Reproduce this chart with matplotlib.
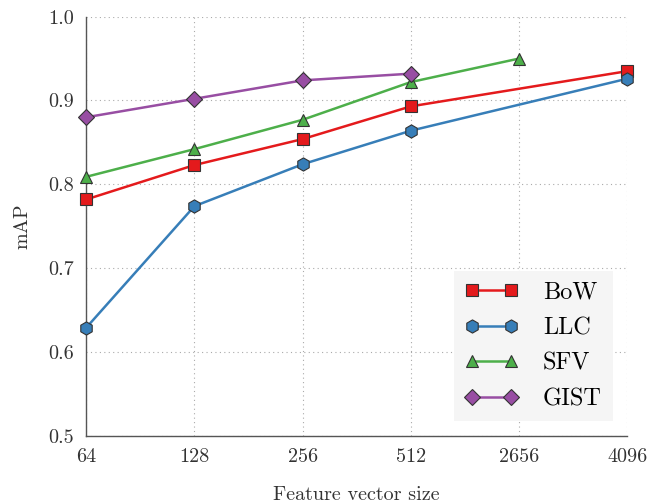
import matplotlib
matplotlib.use("Agg")
import matplotlib.pyplot as plt

plt.rcParams.update({
    "font.family": "serif", "font.serif": ["cmr10", "DejaVu Serif"],
    "mathtext.fontset": "cm", "axes.formatter.use_mathtext": True,
    "font.size": 12,
})

sizes = ["64", "128", "256", "512", "2656", "4096"]
bow_x = [0, 1, 2, 3, 5]
bow = [0.782, 0.823, 0.854, 0.893, 0.935]
llc_x = [0, 1, 2, 3, 5]
llc = [0.629, 0.774, 0.824, 0.864, 0.926]
sfv_x = [0, 1, 2, 3, 4]
sfv = [0.809, 0.842, 0.877, 0.922, 0.950]
gist_x = [0, 1, 2, 3]
gist = [0.880, 0.902, 0.924, 0.932]

fig = plt.figure(figsize=(6.48, 5.04), dpi=100)
ax = fig.add_axes([0.133, 0.135, 0.835, 0.832])

series = [(bow_x, bow, "BoW", "#e41a1c", "s", 8),
          (llc_x, llc, "LLC", "#377eb8", "h", 9.5),
          (sfv_x, sfv, "SFV", "#4daf4a", "^", 9),
          (gist_x, gist, "GIST", "#984ea3", "D", 8)]
for xs, ys, lab, col, mk, ms in series:
    ax.plot(xs, ys, color=col, lw=1.8, marker=mk, ms=ms, mfc=col,
            mec="#333333", mew=0.8, label=lab, zorder=3, clip_on=False)

ax.set_xlim(0, 5)
ax.set_ylim(0.5, 1.0)
ax.set_xticks(range(len(sizes)))
ax.set_xticklabels(sizes)
ax.set_yticks([0.5, 0.6, 0.7, 0.8, 0.9, 1.0])
ax.set_yticklabels(["0.5", "0.6", "0.7", "0.8", "0.9", "1.0"])
ax.tick_params(length=0, pad=9, labelsize=14.5, colors="#333333")
ax.grid(True, ls=(0, (1, 3)), color="#aaaaaa", lw=0.8)
for s in ("top", "right"):
    ax.spines[s].set_visible(False)
for s in ("left", "bottom"):
    ax.spines[s].set_color("#555555")
    ax.spines[s].set_linewidth(1.0)
ax.set_xlabel("Feature vector size", fontsize=14.5, labelpad=14, color="#333333")
ax.set_ylabel("mAP", fontsize=14.5, labelpad=12, color="#333333")

leg = ax.legend(loc="lower right", fontsize=17.5, frameon=True, fancybox=False,
                numpoints=2, borderpad=0.45, labelspacing=0.55, handlelength=2.2,
                handletextpad=1.0, borderaxespad=0.6)
leg.get_frame().set_facecolor("#f5f5f5")
leg.get_frame().set_edgecolor("none")
leg.get_frame().set_alpha(1)

fig.savefig("out.png", dpi=100)
